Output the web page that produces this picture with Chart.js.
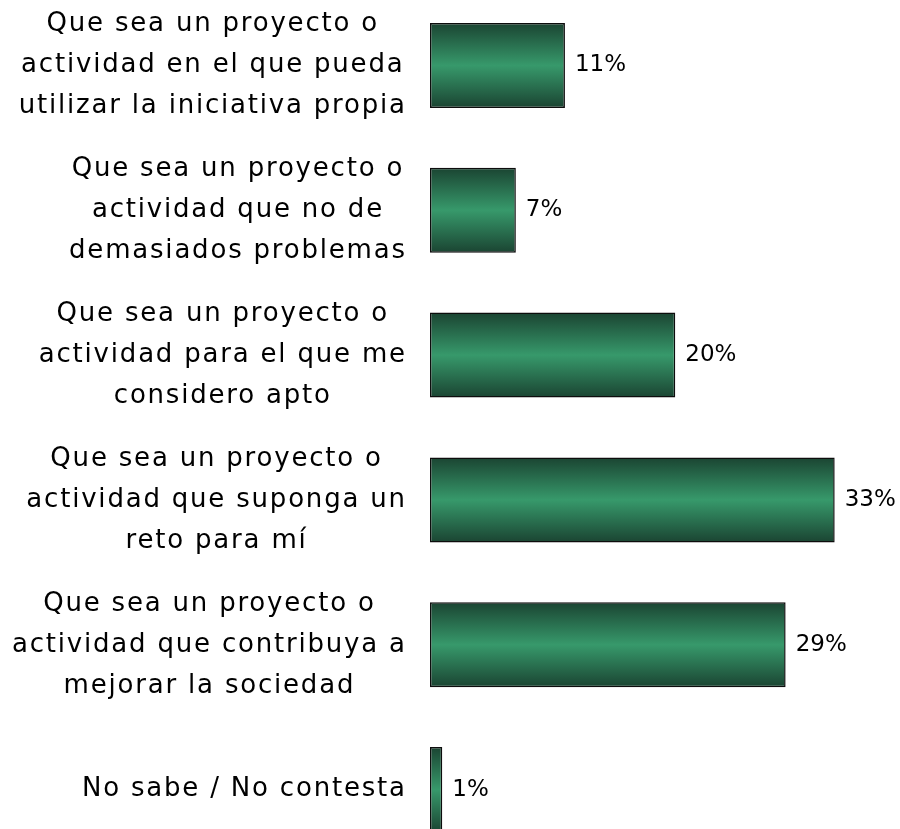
<!DOCTYPE html>
<html>
<head>
<meta charset="utf-8">
<script src="https://cdn.jsdelivr.net/npm/chart.js@4.4.1/dist/chart.umd.min.js"></script>
<style>
  html, body { margin: 0; padding: 0; background: #fff; overflow: hidden; }
  #wrap { position: absolute; left: 0; top: -7px; width: 900px; height: 869px; }
</style>
</head>
<body>
<div id="wrap"><canvas id="chart"></canvas></div>
<script>
// categories (each one split in lines as in the picture)
const categories = [
  ["Que sea un proyecto o", "actividad en el que pueda", "utilizar la iniciativa propia"],
  ["Que sea un proyecto o", "actividad que no de", "demasiados problemas"],
  ["Que sea un proyecto o", "actividad para el que me", "considero apto"],
  ["Que sea un proyecto o", "actividad que suponga un", "reto para mí"],
  ["Que sea un proyecto o", "actividad que contribuya a", "mejorar la sociedad"],
  ["No sabe / No contesta"]
];
// percentages
const values = [11, 7, 20, 33, 29, 1];

const LABEL_FONT = "26px 'DejaVu Sans', sans-serif";
const VALUE_FONT = "23px 'DejaVu Sans', sans-serif";

// vertical gradient for each bar, dark on top and bottom, light in the middle
function barGradient(context) {
  const chart = context.chart;
  const yScale = chart.scales.y;
  if (!yScale || context.dataIndex === undefined) return '#2f8a5f';
  const center = yScale.getPixelForValue(context.dataIndex);
  if (!isFinite(center)) return '#2f8a5f';
  const half = 43;
  const g = chart.ctx.createLinearGradient(0, center - half, 0, center + half);
  g.addColorStop(0, '#1a4331');
  g.addColorStop(0.5, '#37996b');
  g.addColorStop(1, '#1a4331');
  return g;
}

// labels on the left: block right aligned, lines centered inside the block
const categoryLabels = {
  id: 'categoryLabels',
  afterDraw(chart) {
    const ctx = chart.ctx;
    const yScale = chart.scales.y;
    const spacing = 1.8;
    const rightEdge = chart.chartArea.left - 25 + spacing;
    ctx.save();
    ctx.font = LABEL_FONT;
    ctx.letterSpacing = spacing + 'px';
    ctx.fillStyle = '#000';
    ctx.textAlign = 'center';
    ctx.textBaseline = 'middle';
    categories.forEach((lines, i) => {
      const widest = Math.max(...lines.map(l => ctx.measureText(l).width));
      const cx = rightEdge - widest / 2;
      const cy = yScale.getPixelForValue(i);
      const lineH = 41;
      const top = cy - (lines.length - 1) * lineH / 2;
      lines.forEach((l, j) => ctx.fillText(l, cx, top + j * lineH));
    });
    ctx.restore();
  }
};

// value labels after each bar
const valueLabels = {
  id: 'valueLabels',
  afterDatasetsDraw(chart) {
    const ctx = chart.ctx;
    const meta = chart.getDatasetMeta(0);
    ctx.save();
    ctx.font = VALUE_FONT;
    ctx.fillStyle = '#000';
    ctx.textAlign = 'left';
    ctx.textBaseline = 'middle';
    meta.data.forEach((bar, i) => {
      ctx.fillText(values[i] + '%', bar.x + 10, bar.y);
    });
    ctx.restore();
  }
};

new Chart(document.getElementById('chart'), {
  type: 'bar',
  data: {
    labels: categories,
    datasets: [{
      data: values,
      backgroundColor: barGradient,
      borderColor: '#0d0d0d',
      borderWidth: 1.5,
      borderSkipped: false,
      barPercentage: 0.587,
      categoryPercentage: 1
    }]
  },
  options: {
    indexAxis: 'y',
    responsive: true,
    maintainAspectRatio: false,
    animation: false,
    layout: { padding: { left: 0, right: 4, top: 0, bottom: 0 } },
    plugins: {
      legend: { display: false },
      tooltip: { enabled: false }
    },
    scales: {
      x: { display: false, min: 0, max: 38 },
      y: {
        ticks: { display: false },
        grid: { display: false, drawTicks: false },
        border: { display: false },
        afterFit(scale) { scale.width = 430; }
      }
    }
  },
  plugins: [valueLabels, categoryLabels]
});
</script>
</body>
</html>
